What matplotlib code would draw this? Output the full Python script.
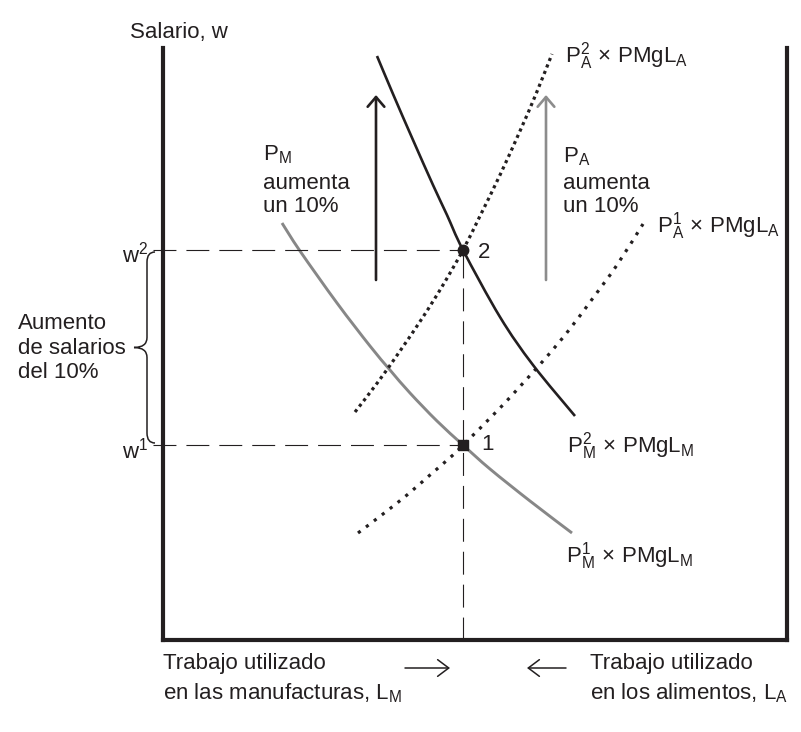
import matplotlib.pyplot as plt
from matplotlib.patches import FancyArrowPatch, PathPatch
from matplotlib.path import Path

plt.rcParams['font.family'] = ['Liberation Sans', 'DejaVu Sans']
plt.rcParams['mathtext.fontset'] = 'custom'
plt.rcParams['mathtext.rm'] = 'Liberation Sans'
plt.rcParams['mathtext.it'] = 'Liberation Sans'
plt.rcParams['lines.scale_dashes'] = False

INK = '#231f20'
GRAY = '#878787'

pm1_L = [119, 137, 174, 207, 227, 247, 274, 300, 327, 367, 409]
pm1_w = [417, 389, 337, 294, 270, 247, 219, 195, 171, 139, 107]

pm2_L = [214, 230, 250, 270, 284, 300, 337, 370, 412]
pm2_w = [584, 546, 500, 455, 425, 390, 323, 275, 224]

pa1_L = [195, 220, 244, 267, 290, 300, 337, 380, 406, 430, 454, 480]
pa1_w = [107, 126, 145, 165, 185, 195, 232, 279, 310, 342, 375, 416]

pa2_L = [192, 215, 237, 260, 280, 300, 317, 337, 357, 373, 389]
pa2_w = [228, 258, 289, 323, 355, 390, 424, 465, 509, 546, 586]

eq_L = 300
w_levels = [195, 390]          # w1, w2
eq_labels = ['1', '2']
shift_from, shift_to = 360, 545  # flechas de aumento de precio


def smooth_path(xs, ys):
    # curva suave que pasa por los puntos (Catmull-Rom -> Bezier cubica)
    pts = list(zip(xs, ys))
    n = len(pts)
    verts = [pts[0]]
    codes = [Path.MOVETO]
    for i in range(n - 1):
        p0 = pts[max(i - 1, 0)]
        p1 = pts[i]
        p2 = pts[i + 1]
        p3 = pts[min(i + 2, n - 1)]
        c1 = (p1[0] + (p2[0] - p0[0]) / 6, p1[1] + (p2[1] - p0[1]) / 6)
        c2 = (p2[0] - (p3[0] - p1[0]) / 6, p2[1] - (p3[1] - p1[1]) / 6)
        verts += [c1, c2, p2]
        codes += [Path.CURVE4] * 3
    return Path(verts, codes)


fig = plt.figure(figsize=(8.01, 7.32), dpi=100)
ax = fig.add_axes([163 / 801, 92 / 732, 624 / 801, 592 / 732])
ax.set_xlim(0, 624)
ax.set_ylim(0, 592)
ax.set_xticks([])
ax.set_yticks([])
ax.spines['top'].set_visible(False)
for s in ['left', 'right', 'bottom']:
    ax.spines[s].set_linewidth(3)
    ax.spines[s].set_color(INK)

# lineas de guia discontinuas
for w in w_levels:
    ax.plot([-10, eq_L], [w, w], color=INK, lw=0.8, dashes=(16.5, 7.2), clip_on=False)
ax.plot([eq_L, eq_L], [0, w_levels[1]], color=INK, lw=0.8, dashes=(16.5, 7.2))

# curvas
ax.add_patch(PathPatch(smooth_path(pm1_L, pm1_w), fill=False, edgecolor=GRAY,
                       lw=2.1, capstyle='butt'))
ax.add_patch(PathPatch(smooth_path(pm2_L, pm2_w), fill=False, edgecolor=INK,
                       lw=1.9, capstyle='butt'))
ax.add_patch(PathPatch(smooth_path(pa1_L, pa1_w), fill=False, edgecolor=INK,
                       lw=2.3, linestyle=(0, (2.3, 4.9)), capstyle='butt'))
ax.add_patch(PathPatch(smooth_path(pa2_L, pa2_w), fill=False, edgecolor=INK,
                       lw=2.3, linestyle=(0, (2.3, 2.7)), capstyle='butt'))

# puntos de equilibrio
ax.plot([eq_L], [w_levels[1]], 'o', color=INK, ms=7.5)
ax.plot([eq_L], [w_levels[0]], 's', color=INK, ms=7)
ax.text(315, w_levels[1] - 2, eq_labels[1], fontsize=16, color=INK, va='center')
ax.text(318, w_levels[0], eq_labels[0], fontsize=16, color=INK, va='center')

# flechas de aumento
for x, c in [(213, INK), (383, '#8c8c8c')]:
    ax.add_patch(FancyArrowPatch((x, shift_from), (x, shift_to),
                                 arrowstyle='->,head_length=0.35,head_width=0.3',
                                 mutation_scale=20, color=c, lw=1.9,
                                 shrinkA=0, shrinkB=0))

# textos
ax.text(-33, 602, 'Salario, w', fontsize=16, color=INK, va='baseline', clip_on=False)
ax.text(-15, w_levels[1] - 13, r'$\mathregular{w^2}$', fontsize=16, color=INK,
        ha='right', va='baseline')
ax.text(-15, w_levels[0] - 13, r'$\mathregular{w^1}$', fontsize=16, color=INK,
        ha='right', va='baseline')

ax.text(100, 480, r'$\mathregular{P_M}$', fontsize=16, color=INK, va='baseline')
ax.text(100, 445, 'aumenta\nun 10%', fontsize=16, color=INK, va='center',
        linespacing=1.1)
ax.text(400, 478, r'$\mathregular{P_A}$', fontsize=16, color=INK, va='baseline')
ax.text(400, 445, 'aumenta\nun 10%', fontsize=16, color=INK, va='center',
        linespacing=1.1)

ax.text(402, 577, r'$\mathregular{P_A^2\,\times\,PMgL_A}$', fontsize=16, color=INK,
        va='baseline')
ax.text(494, 408, r'$\mathregular{P_A^1\,\times\,PMgL_A}$', fontsize=16, color=INK,
        va='baseline')
ax.text(404, 188, r'$\mathregular{P_M^2\,\times\,PMgL_M}$', fontsize=16, color=INK,
        va='baseline')
ax.text(403, 77, r'$\mathregular{P_M^1\,\times\,PMgL_M}$', fontsize=16, color=INK,
        va='baseline')

ax.text(-145, 292, 'Aumento\nde salarios\ndel 10%', fontsize=16, color=INK,
        va='center', linespacing=1.2)

# llave
mid = sum(w_levels) / 2
top, bot = w_levels[1] - 2, w_levels[0] + 2
verts = [(-8, top), (-16, top), (-16, top - 10),
         (-16, mid + 10), (-16, mid), (-29, mid),
         (-16, mid), (-16, mid - 10),
         (-16, bot + 10), (-16, bot), (-8, bot)]
codes = [Path.MOVETO, Path.CURVE3, Path.CURVE3,
         Path.LINETO, Path.CURVE3, Path.CURVE3,
         Path.CURVE3, Path.CURVE3,
         Path.LINETO, Path.CURVE3, Path.CURVE3]
ax.add_patch(PathPatch(Path(verts, codes), fill=False, color=INK, lw=1.1,
                       clip_on=False))

# etiquetas inferiores
ax.text(0, -29, 'Trabajo utilizado', fontsize=16, color=INK, va='baseline')
ax.text(0, -59, r'en las manufacturas, $\mathregular{L_M}$', fontsize=16,
        color=INK, va='baseline')
ax.text(427, -29, 'Trabajo utilizado', fontsize=16, color=INK, va='baseline')
ax.text(427, -59, r'en los alimentos, $\mathregular{L_A}$', fontsize=16,
        color=INK, va='baseline')
for x0, x1 in [(242, 287), (403, 364)]:
    ax.add_patch(FancyArrowPatch((x0, -28), (x1, -28),
                                 arrowstyle='->,head_length=0.4,head_width=0.3',
                                 mutation_scale=20, color=INK, lw=1.1,
                                 shrinkA=0, shrinkB=0, clip_on=False))

fig.savefig('out.png', dpi=100)
